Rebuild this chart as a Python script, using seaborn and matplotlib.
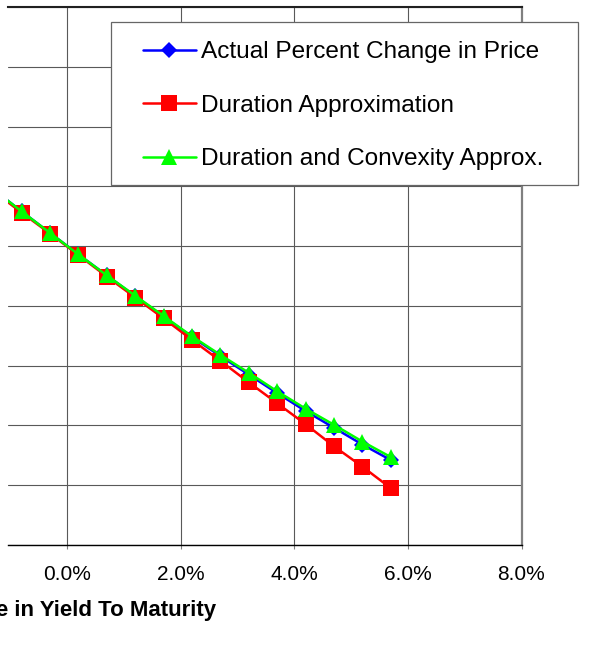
import matplotlib
matplotlib.use("Agg")
import matplotlib.pyplot as plt
import pandas as pd
import seaborn as sns
from matplotlib.lines import Line2D
from matplotlib.patches import Rectangle
from matplotlib.ticker import MultipleLocator, FuncFormatter

# Change in yield to maturity (%) and the resulting percent change in bond price
yield_change = [-1.3, -0.8, -0.3, 0.2, 0.7, 1.2, 1.7, 2.2, 2.7, 3.2, 3.7, 4.2, 4.7, 5.2, 5.7]
actual_change = [9.5, 5.8, 2.2, -1.4, -4.9, -8.4, -11.8, -15.2, -18.4, -21.5, -24.6, -27.6, -30.4, -33.2, -35.8]
duration_approx = [9.2, 5.6, 2.1, -1.5, -5.1, -8.6, -12.1, -15.7, -19.2, -22.8, -26.3, -29.8, -33.5, -36.9, -40.5]
convexity_approx = [9.5, 5.8, 2.2, -1.4, -4.9, -8.3, -11.7, -15.1, -18.2, -21.2, -24.3, -27.2, -29.9, -32.7, -35.3]

series_names = ["Actual Percent Change in Price",
                "Duration Approximation",
                "Duration and Convexity Approx."]
series_values = [actual_change, duration_approx, convexity_approx]
series_colors = ["#0000FF", "#FF0000", "#00FF00"]
series_markers = ["D", "s", "^"]
series_msizes = [8.0, 11.0, 11.0]

x_ticks = [0, 2, 4, 6, 8]

sns.set_theme(style="white")
plt.rcParams["font.family"] = ["Liberation Sans", "DejaVu Sans"]
plt.rcParams["text.color"] = "black"

df = pd.DataFrame({
    "yield_change": yield_change * 3,
    "price_change": actual_change + duration_approx + convexity_approx,
    "series": sum([[n] * len(yield_change) for n in series_names], []),
})

fig = plt.figure(figsize=(5.92, 6.51), dpi=100)
W, H = 592, 651
ax = fig.add_axes([8 / W, (H - 545) / H, (521.5 - 8) / W, (545 - 7) / H])

for name, color, marker, ms in zip(series_names, series_colors, series_markers, series_msizes):
    sub = df[df["series"] == name]
    sns.lineplot(data=sub, x="yield_change", y="price_change", ax=ax,
                 color=color, marker=marker, markersize=ms,
                 markeredgecolor=color, markeredgewidth=0,
                 linewidth=1.8, legend=False, errorbar=None)

ax.set_xlim(-1.04, 8.0)
ax.set_ylim(-50, 40)
ax.xaxis.set_major_locator(MultipleLocator(2))
ax.xaxis.set_major_formatter(FuncFormatter(lambda v, p: f"{v:.1f}%"))
ax.yaxis.set_major_locator(MultipleLocator(10))
ax.tick_params(axis="y", left=False, labelleft=False)
ax.tick_params(axis="x", bottom=True, direction="out", length=3, width=0.8,
               color="#808080", pad=11.5, labelsize=15, labelcolor="black")
ax.set_xlabel("")
ax.set_ylabel("")
ax.set_axisbelow(True)
ax.grid(True, color="#595959", linewidth=0.8)

ax.spines["left"].set_visible(False)
ax.spines["top"].set_color("#202020")
ax.spines["top"].set_linewidth(1.5)
ax.spines["bottom"].set_color("black")
ax.spines["bottom"].set_linewidth(1.0)
ax.spines["right"].set_color("#808080")
ax.spines["right"].set_linewidth(1.6)

# Legend box sitting over the upper-right of the plot area
frame = Rectangle((110.7 / W, 1 - 185 / H), (578 - 110.7) / W, (185 - 22) / H,
                  transform=fig.transFigure, facecolor="white",
                  edgecolor="#666666", linewidth=0.9, zorder=4)
fig.add_artist(frame)

handles = [Line2D([], [], color=c, marker=m, markersize=ms, markeredgewidth=0,
                  linewidth=1.8)
           for c, m, ms in zip(series_colors, series_markers, series_msizes)]
fig.legend(handles, series_names, loc="upper left",
           bbox_to_anchor=(143 / W, 1 - 41 / H), frameon=False,
           fontsize=17.6, handlelength=2.16, handletextpad=0.2,
           labelspacing=1.29, borderpad=0, borderaxespad=0)

fig.text(216 / W, (H - 616) / H, "Change in Yield To Maturity",
         ha="right", va="baseline", fontsize=16, fontweight="bold",
         color="black")

fig.savefig("out.png", dpi=100)
